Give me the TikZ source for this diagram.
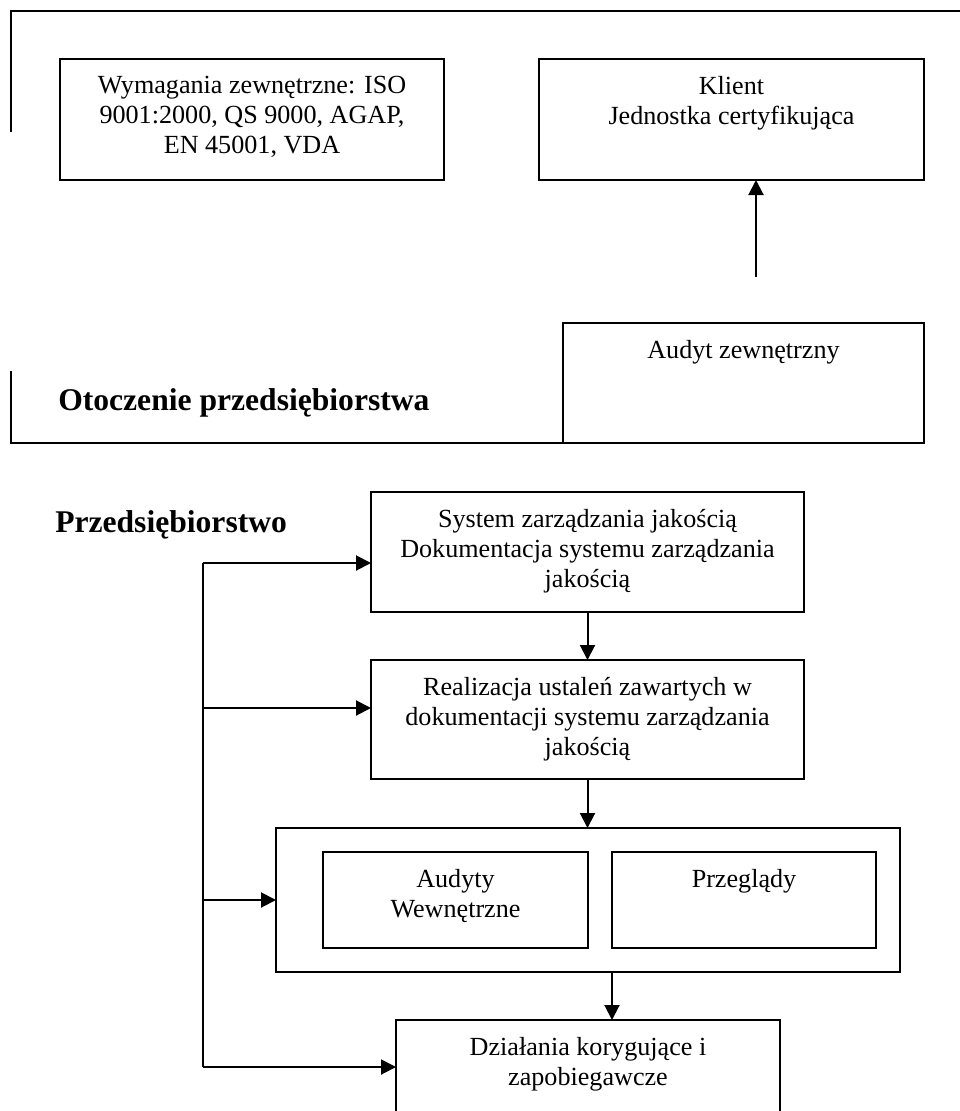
\documentclass[tikz,border=0pt]{standalone}
\usepackage{fontspec}
\setmainfont{Liberation Serif}
\usetikzlibrary{positioning}
\usetikzlibrary{arrows.meta}
\usetikzlibrary{calc}

\tikzset{
  box/.style={draw, line width=1.5pt, inner sep=0pt, outer sep=0pt, anchor=north west},
  txt/.style={font=\fontsize{19.6}{22.5}\selectfont, align=center, inner sep=0pt, outer sep=0pt},
  title/.style={font=\fontsize{23.7}{28}\selectfont\bfseries, inner sep=0pt, anchor=base west},
  arr/.style={line width=1.5pt, -{Triangle[length=11.25pt,width=11.25pt]}},
}

\begin{document}
\begin{tikzpicture}[x=0.75pt,y=-0.75pt]
                \useasboundingbox (0,0) rectangle (960,1111);

                % Otoczenie przedsiebiorstwa
                \node[box, minimum width=288pt, minimum height=90.75pt] (wym) at (60,59) {};
                \node[txt, below=13pt of wym.north] (wymtxt) {Wymagania zewnętrzne: ISO\\9001:2000, QS 9000, AGAP,\\EN 45001, VDA};
                \node[box, minimum width=288.75pt, minimum height=90.75pt] (klient) at (539,59) {};
                \node[txt, below=13pt of klient.north] (klienttxt) {Klient\\Jednostka certyfikująca};
                \node[box, minimum width=270.75pt, minimum height=90pt] (audyt) at (563,323) {};
                \node[txt, below=13pt of audyt.north] (audyttxt) {Audyt zewnętrzny};

                \draw[line width=1.5pt] (11,132) -- (11,11) -- (962,11);
                \draw[line width=1.5pt] (11,371) -- (11,443) -- (audyt.south west);
                \node[title] (otoczenie) at (58,410) {Otoczenie przedsiębiorstwa};

                \coordinate (up) at (756,277);
                \draw[arr] (up) -- (up |- klient.south);

                % Przedsiebiorstwo
                \node[title] (firma) at (55,532) {Przedsiębiorstwo};
                \node[box, minimum width=324.75pt, minimum height=90pt] (system) at (371,492) {};
                \node[txt, below=13pt of system.north] (systemtxt) {System zarządzania jakością\\Dokumentacja systemu zarządzania\\jakością};
                \node[box, minimum width=324.75pt, minimum height=89.25pt] (real) at (371,660) {};
                \node[txt, below=13pt of real.north] (realtxt) {Realizacja ustaleń zawartych w\\dokumentacji systemu zarządzania\\jakością};
                \node[box, minimum width=468pt, minimum height=108pt] (outer) at (276,828) {};
                \node[box, minimum width=198.75pt, minimum height=72pt] (audyty) at (323,852) {};
                \node[txt, below=13pt of audyty.north] (audytytxt) {Audyty\\Wewnętrzne};
                \node[box, minimum width=198pt, minimum height=72pt] (przeg) at (612,852) {};
                \node[txt, below=13pt of przeg.north] (przegtxt) {Przeglądy};
                \node[box, minimum width=288pt, minimum height=90pt] (dzial) at (396,1020) {};
                \node[txt, below=13pt of dzial.north] (dzialtxt) {Działania korygujące i\\zapobiegawcze};

                \draw[arr] (system.south) -- (real.north);
                \draw[arr] (real.south) -- (real.south |- outer.north);
                \draw[arr] (outer.south -| przeg.west) -- (dzial.north -| przeg.west);

                % petla sprzezenia
                \coordinate (fbtop) at (203,563);
                \coordinate (fbbot) at (203,1067);
                \draw[line width=1.5pt] (fbtop) -- (fbbot);
                \foreach \yy/\target in {563/system, 708/real, 900/outer, 1067/dzial}{
                    \coordinate (fb) at (203,\yy);
                    \draw[arr] (fb) -- (fb -| \target.west);
                }

            \end{tikzpicture}
\end{document}
